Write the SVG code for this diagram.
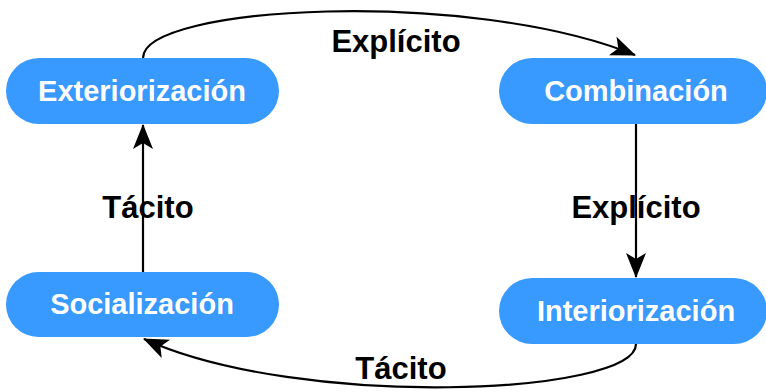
<svg xmlns="http://www.w3.org/2000/svg" width="766" height="392" viewBox="0 0 766 392">
<style>
.node{fill:#3899ff}
.nt{font-family:"Liberation Sans",Arial,sans-serif;font-weight:bold;font-size:29px;fill:#fff;text-anchor:middle}
.el{font-family:"Liberation Sans",Arial,sans-serif;font-weight:bold;font-size:31px;fill:#000;text-anchor:middle}
.edge{fill:none;stroke:#000;stroke-width:2.2}
</style>
<defs>
<marker id="ah" markerUnits="userSpaceOnUse" markerWidth="26" markerHeight="20" refX="24" refY="10" orient="auto" overflow="visible">
<path d="M0,0 L25,10 L0,20 L6,10 z" fill="#000"/>
</marker>
</defs>
<g id="connectors">
<path class="edge" d="M143,58 C143,5 470,-12 635,55" marker-end="url(#ah)"/>
<path class="edge" d="M636,124 L636,277" marker-end="url(#ah)"/>
<path class="edge" d="M636,344 C636,395 300,410 144,339" marker-end="url(#ah)"/>
<path class="edge" d="M143,272 L143,125" marker-end="url(#ah)"/>
<text class="el" x="396" y="52">Explícito</text>
<text class="el" x="636" y="218">Explícito</text>
<text class="el" x="401" y="379">Tácito</text>
<text class="el" x="148" y="218">Tácito</text>
</g>
<g id="exteriorizacion">
<rect class="node" x="6" y="58" width="273" height="66" rx="33"/>
<text class="nt" x="142" y="101">Exteriorización</text>
</g>
<g id="combinacion">
<rect class="node" x="499" y="58" width="268" height="66" rx="33"/>
<text class="nt" x="636" y="101">Combinación</text>
</g>
<g id="socializacion">
<rect class="node" x="6" y="272" width="273" height="65" rx="32.5"/>
<text class="nt" x="142" y="314">Socialización</text>
</g>
<g id="interiorizacion">
<rect class="node" x="499" y="278" width="268" height="66" rx="33"/>
<text class="nt" x="636" y="321">Interiorización</text>
</g>
</svg>
